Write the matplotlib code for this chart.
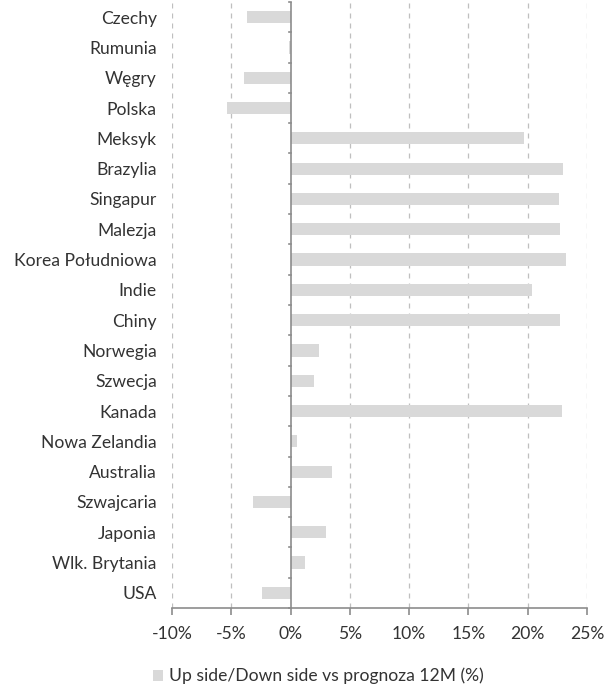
import matplotlib
matplotlib.use("Agg")
import matplotlib.pyplot as plt
from matplotlib.ticker import FuncFormatter, MultipleLocator
import numpy as np

plt.rcParams['font.family'] = ['Lato', 'DejaVu Sans']

# dane (od góry do dołu)
kraje = ["Czechy", "Rumunia", "Węgry", "Polska", "Meksyk", "Brazylia",
         "Singapur", "Malezja", "Korea Południowa", "Indie", "Chiny",
         "Norwegia", "Szwecja", "Kanada", "Nowa Zelandia", "Australia",
         "Szwajcaria", "Japonia", "Wlk. Brytania", "USA"]
wartosci = [-3.7, -0.1, -3.9, -5.4, 19.7, 23.0, 22.6, 22.7, 23.2, 20.4,
            22.7, 2.4, 2.0, 22.9, 0.5, 3.5, -3.2, 3.0, 1.2, -2.4]
seria = "Up side/Down side vs prognoza 12M (%)"

TXT = '#333333'
AXC = '#8c8c8c'
FS = 12.6

fig = plt.figure(figsize=(6.12, 6.87), dpi=100)
ax = fig.add_axes([172/612, 1 - 608/687, (587-172)/612, 606/687])

y = np.arange(len(kraje))
ax.barh(y, np.array(wartosci) / 100, height=0.4, color='#d9d9d9', label=seria, zorder=3)

ax.set_ylim(len(kraje) - 0.5, -0.5)
ax.set_xlim(-0.10, 0.25)
ax.xaxis.set_major_locator(MultipleLocator(0.05))
ax.xaxis.set_major_formatter(FuncFormatter(lambda v, p: "{:.0f}%".format(v * 100)))

# grid pionowy przerywany
for xv in np.arange(-0.10, 0.2501, 0.05):
    if abs(xv) > 1e-9:
        ax.axvline(xv, color='#bfbfbf', linestyle=(0, (4, 4)), linewidth=0.9, zorder=1)

for s in ['top', 'right', 'left']:
    ax.spines[s].set_visible(False)
ax.spines['bottom'].set_color(AXC)
ax.spines['bottom'].set_linewidth(1.2)

# oś y w punkcie 0
ax.axvline(0, color=AXC, linewidth=1.2, zorder=4)

ax.set_yticks(y)
ax.set_yticklabels(kraje)
ax.tick_params(axis='y', length=0, pad=11, colors=TXT, labelsize=FS)

# małe kreski na granicach kategorii przy osi 0
for b in np.arange(-0.5, len(kraje) - 0.4, 1.0):
    ax.plot([-0.0016, 0], [b, b], color=AXC, linewidth=1.2, zorder=4, clip_on=False)

ax.tick_params(axis='x', direction='out', length=5, width=1.2, color=AXC,
               labelcolor=TXT, labelsize=FS, pad=8)

fig.legend(loc='lower center', bbox_to_anchor=(0.52, 0.004), frameon=False,
           borderaxespad=0, borderpad=0,
           fontsize=FS, handlelength=0.6, handleheight=0.6, handletextpad=0.3,
           labelcolor=TXT)

fig.savefig("out.png", dpi=100)
